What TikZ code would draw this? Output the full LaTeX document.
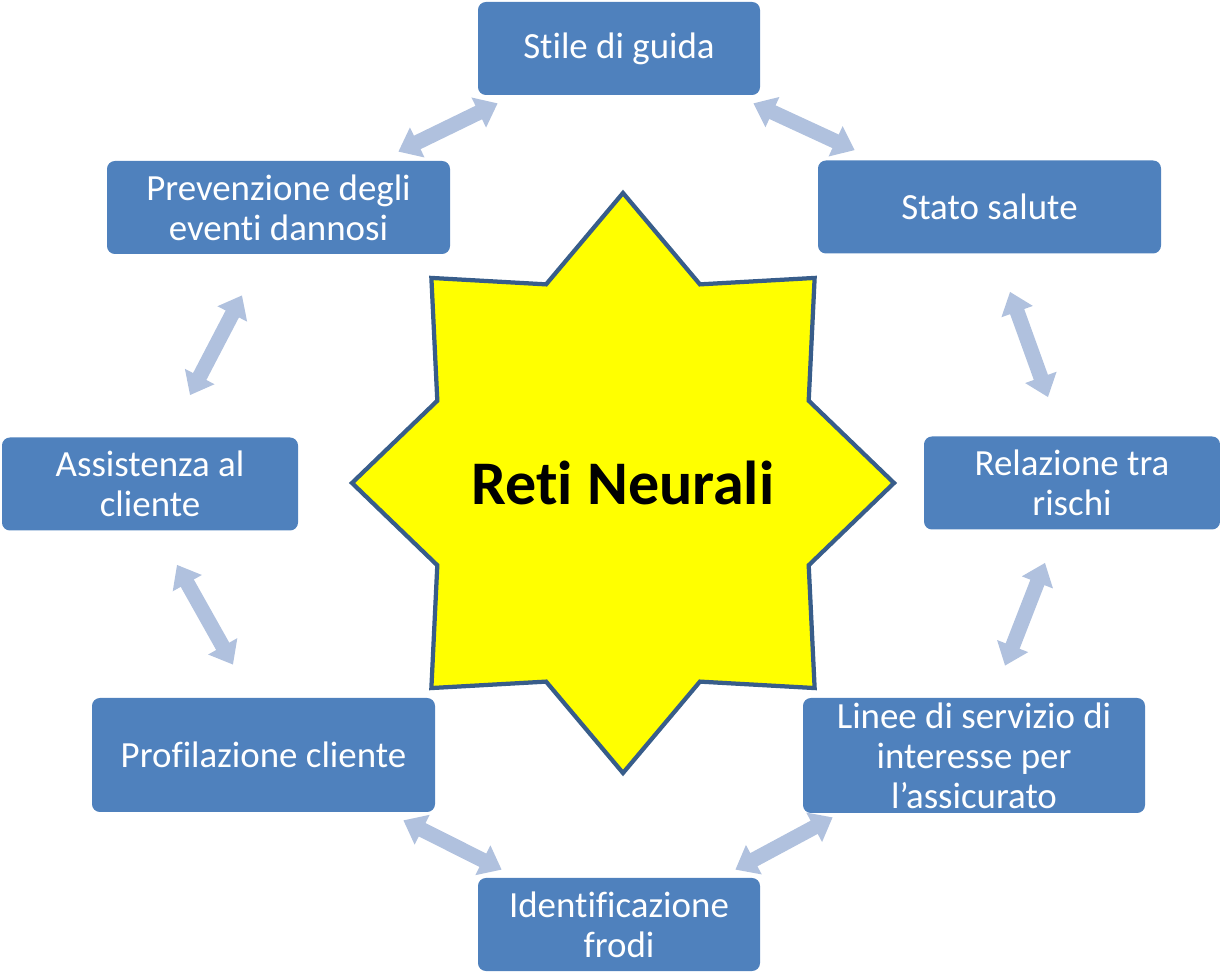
\documentclass[tikz,border=0pt]{standalone}
\usepackage{fontspec}
\setmainfont{Carlito}[Ligatures={TeX,NoCommon}]
\usepackage{tikz}
\usetikzlibrary{arrows.meta,calc}
\definecolor{boxcol}{RGB}{79,129,189}
\definecolor{linkcol}{RGB}{176,193,222}
\definecolor{starcol}{RGB}{255,255,0}
\definecolor{starline}{RGB}{56,93,138}
\tikzset{
  topic/.style={fill=boxcol,rounded corners=4.5pt,inner sep=0pt,align=center,text=white,
    font=\fontsize{21}{22.8}\selectfont,minimum height=1.86cm},
  link/.style={{Triangle[width=0.64cm,length=0.42cm]}-{Triangle[width=0.64cm,length=0.42cm]},
    line width=0.3cm,draw=linkcol},
  burst/.style={draw=starline,fill=starcol,line width=0.085cm},
  core/.style={font=\fontsize{35.3}{38}\selectfont\bfseries}
}

\begin{document}
\begin{tikzpicture}
  \useasboundingbox (0,0) rectangle (24.4,19.46);
  \begin{scope}[shift={(12.46,9.80)}]
    \draw[burst] (0:5.42 and 5.8)
      \foreach \a in {0,45,...,270} {-- (\a+22.5:4.02 and 4.3) -- (\a+45:5.42 and 5.8)}
      -- (337.5:4.02 and 4.3) -- cycle;
  \end{scope}
  \node[core] (net) at (12.46,9.80) {Reti Neurali};

  \node[topic,minimum width=5.64cm] (stile) at (12.38,18.49) {Stile di guida};
  \node[topic,minimum width=6.86cm] (stato) at (19.79,15.32) {Stato salute};
  \node[topic,minimum width=5.92cm] (rel) at (21.44,9.80) {Relazione tra\\rischi};
  \node[topic,minimum width=6.84cm,minimum height=2.3cm] (linee) at (19.48,4.35)
    {Linee di servizio di\\interesse per\\l’assicurato};
  \node[topic,minimum width=5.64cm] (ident) at (12.38,0.97) {Identificazione\\frodi};
  \node[topic,minimum width=6.86cm,minimum height=2.28cm] (prof) at (5.27,4.36) {Profilazione cliente};
  \node[topic,minimum width=5.92cm] (assist) at (3.00,9.78) {Assistenza al\\cliente};
  \node[topic,minimum width=6.86cm] (prev) at (5.57,15.31) {Prevenzione degli\\eventi dannosi};

  \draw[link] ([shift={(-1.04,0.18)}]prev.north east) -- ([shift={(0.40,-0.16)}]stile.south west);
  \draw[link] ([shift={(-0.14,-0.16)}]stile.south east) -- ([shift={(0.74,0.20)}]stato.north west);
  \draw[link] ([shift={(0.41,-0.76)}]stato.south) -- ([shift={(-0.48,0.78)}]rel.north);
  \draw[link] ([shift={(-0.54,-0.66)}]rel.south) -- ([shift={(0.62,0.64)}]linee.north);
  \draw[link] ([shift={(0.60,-0.08)}]linee.south west) -- ([shift={(-0.50,0.16)}]ident.north east);
  \draw[link] ([shift={(0.48,0.16)}]ident.north west) -- ([shift={(-0.64,-0.16)}]prof.south east);
  \draw[link] ([shift={(-0.61,0.66)}]prof.north) -- ([shift={(0.54,-0.68)}]assist.south);
  \draw[link] ([shift={(0.80,0.84)}]assist.north) -- ([shift={(-0.73,-0.82)}]prev.south);
\end{tikzpicture}
\end{document}
